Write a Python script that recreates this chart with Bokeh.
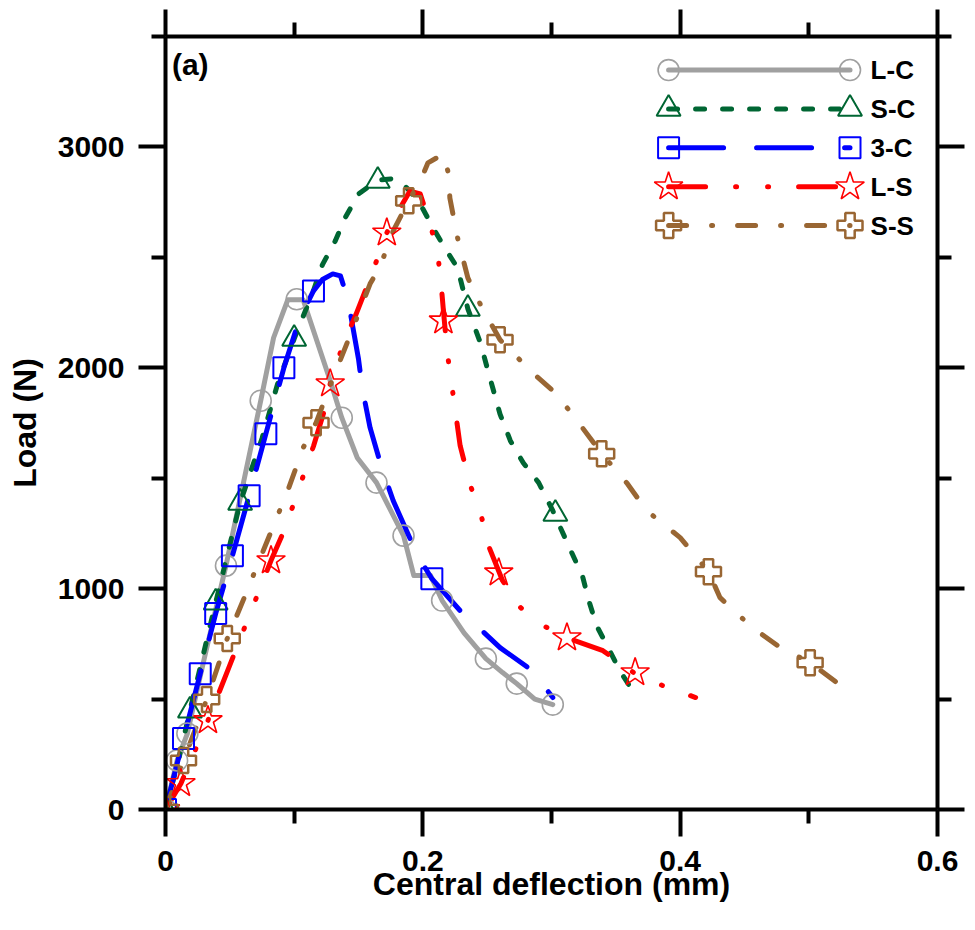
from bokeh.plotting import figure
from bokeh.models import LinearAxis, FixedTicker, Label
from bokeh.core.properties import value
from bokeh.embed import file_html
from bokeh.resources import INLINE

# ---------------- data ----------------
lc_x = [0, 0.009, 0.017, 0.030, 0.047, 0.060, 0.074, 0.084, 0.095, 0.107, 0.128, 0.137, 0.149,
        0.164, 0.185, 0.193, 0.206, 0.215, 0.232, 0.249, 0.262, 0.273, 0.287, 0.301]
lc_y = [0, 222, 344, 680, 1104, 1464, 1851, 2136, 2308, 2308, 1941, 1774, 1593,
        1480, 1240, 1059, 1059, 946, 800, 683, 620, 570, 500, 475]
lc_mx = [0, 0.009, 0.017, 0.047, 0.074, 0.102, 0.137, 0.164, 0.185, 0.215, 0.249, 0.273, 0.301]
lc_my = [0, 222, 344, 1104, 1851, 2310, 1774, 1480, 1240, 946, 683, 570, 475]

sc_x = [0, 0.010, 0.019, 0.039, 0.058, 0.075, 0.087, 0.100, 0.115, 0.122, 0.132, 0.140, 0.150,
        0.165, 0.175, 0.183, 0.190, 0.200, 0.208, 0.217, 0.227, 0.235, 0.245, 0.250, 0.260,
        0.268, 0.278, 0.290, 0.301, 0.315, 0.324, 0.329, 0.335, 0.344, 0.353, 0.363]
sc_y = [0, 220, 448, 937, 1389, 1680, 1925, 2131, 2350, 2467, 2575, 2683, 2787,
        2850, 2855, 2840, 2800, 2720, 2633, 2543, 2452, 2267, 2109, 2000, 1790,
        1670, 1570, 1480, 1353, 1172, 1059, 946, 833, 733, 629, 538]
sc_mx = [0, 0.019, 0.039, 0.058, 0.100, 0.165, 0.235, 0.303]
sc_my = [0, 448, 937, 1389, 2131, 2846, 2267, 1339]

c3_x = [0, 0.014, 0.027, 0.039, 0.052, 0.065, 0.078, 0.092, 0.104, 0.115, 0.122, 0.130, 0.136,
        0.142, 0.150, 0.153, 0.159, 0.168, 0.177, 0.196, 0.207, 0.231, 0.241, 0.260, 0.285, 0.301]
c3_y = [0, 321, 615, 887, 1149, 1421, 1701, 2000, 2220, 2348, 2400, 2425, 2416,
        2303, 2040, 1905, 1729, 1548, 1398, 1149, 1045, 887, 837, 733, 629, 507]
c3_mx = [0, 0.014, 0.027, 0.039, 0.052, 0.065, 0.078, 0.092, 0.115, 0.207]
c3_my = [0, 321, 615, 887, 1149, 1421, 1701, 2000, 2348, 1045]

ls_x = [0, 0.012, 0.033, 0.050, 0.065, 0.082, 0.091, 0.099, 0.107, 0.115, 0.124, 0.128, 0.138,
        0.148, 0.159, 0.172, 0.180, 0.190, 0.198, 0.204, 0.211, 0.214, 0.216, 0.219, 0.229,
        0.237, 0.245, 0.251, 0.262, 0.276, 0.295, 0.318, 0.340, 0.365, 0.388, 0.412]
ls_y = [0, 118, 403, 654, 876, 1127, 1247, 1374, 1509, 1645, 1817, 1928, 2106,
        2241, 2404, 2611, 2700, 2800, 2787, 2679, 2543, 2394, 2258, 2068, 1647,
        1466, 1340, 1195, 1036, 914, 828, 765, 719, 615, 557, 507]
ls_mx = [0, 0.012, 0.033, 0.082, 0.128, 0.172, 0.216, 0.259, 0.312, 0.365]
ls_my = [0, 118, 403, 1127, 1928, 2611, 2213, 1072, 778, 620]

ss_x = [0, 0.014, 0.032, 0.048, 0.062, 0.076, 0.095, 0.107, 0.117, 0.130, 0.144, 0.159, 0.167,
        0.177, 0.189, 0.198, 0.204, 0.216, 0.220, 0.221, 0.227, 0.235, 0.246, 0.260, 0.286,
        0.303, 0.320, 0.339, 0.359, 0.374, 0.400, 0.422, 0.431, 0.456, 0.478, 0.501, 0.528, 0.534]
ss_y = [0, 222, 498, 774, 970, 1172, 1443, 1638, 1751, 1950, 2154, 2380, 2462,
        2620, 2756, 2846, 2928, 2968, 2878, 2769, 2588, 2407, 2271, 2127, 1973,
        1887, 1760, 1611, 1475, 1353, 1231, 1077, 959, 824, 733, 665, 547, 507]
ss_mx = [0, 0.014, 0.032, 0.048, 0.117, 0.189, 0.260, 0.339, 0.422, 0.501]
ss_my = [0, 222, 498, 774, 1751, 2756, 2127, 1611, 1077, 665]

labels = ["L-C", "S-C", "3-C", "L-S", "S-S"]
x_ticks = [0, 0.2, 0.4, 0.6]
x_minor = [0.1, 0.3, 0.5]
y_ticks = [0, 1000, 2000, 3000]
y_minor = [500, 1500, 2500, 3500]

# ---------------- styles ----------------
FONT = "Liberation Sans"
series = [
    dict(x=lc_x, y=lc_y, mx=lc_mx, my=lc_my, color="#a0a0a0", dash="solid", marker="circle", size=21, mlw=1.6),
    dict(x=sc_x, y=sc_y, mx=sc_mx, my=sc_my, color="#006633", dash="9 18", marker="triangle", size=24, mlw=2),
    dict(x=c3_x, y=c3_y, mx=c3_mx, my=c3_my, color="#0000ff", dash="55 33", marker="square", size=21, mlw=2),
    dict(x=ls_x, y=ls_y, mx=ls_mx, my=ls_my, color="#ff0000", dash="37 30 1 31 1 30", marker="star", size=30, mlw=1.6),
    dict(x=ss_x, y=ss_y, mx=ss_mx, my=ss_my, color="#996633", dash="18 25 1 25", marker="plus", size=25, mlw=2.5),
]

p = figure(width=975, height=930, x_range=(0, 0.6), y_range=(0, 3500),
           output_backend="svg", toolbar_location=None,
           min_border_left=165, min_border_right=38, min_border_top=36, min_border_bottom=121)
p.xgrid.visible = False
p.ygrid.visible = False
p.outline_line_color = None
p.background_fill_color = "white"
p.border_fill_color = "white"

bottom = p.below[0]
left = p.left[0]
top = LinearAxis()
right = LinearAxis()
p.add_layout(top, "above")
p.add_layout(right, "right")

for ax in [bottom, top]:
    ax.ticker = FixedTicker(ticks=x_ticks, minor_ticks=x_minor)
for ax in [left, right]:
    ax.ticker = FixedTicker(ticks=y_ticks, minor_ticks=y_minor)

for ax in [bottom, left, top, right]:
    ax.axis_line_width = 4
    ax.axis_line_color = "black"
    ax.major_tick_line_width = 4
    ax.minor_tick_line_width = 4
    ax.major_tick_line_color = "black"
    ax.minor_tick_line_color = "black"
    ax.major_tick_out = 27
    ax.major_tick_in = 0
    ax.minor_tick_out = 14
    ax.minor_tick_in = 0
    ax.major_label_text_font = FONT
    ax.major_label_text_font_style = "bold"
    ax.major_label_text_font_size = "30px"
    ax.major_label_text_color = "black"
    ax.major_label_standoff = 14

# frame-only axes: ticks without labels
for ax in [top, right]:
    ax.major_label_text_font_size = "1px"
    ax.major_label_text_color = None
    ax.major_label_standoff = 0

bottom.axis_label = "Central deflection (mm)"
left.axis_label = "Load (N)"
for ax in [bottom, left]:
    ax.axis_label_text_font = FONT
    ax.axis_label_text_font_style = "bold"
    ax.axis_label_text_font_size = "32px"
    ax.axis_label_text_color = "black"
bottom.axis_label_standoff = -8
left.axis_label_standoff = 12

for s in series:
    p.line(s["x"], s["y"], line_color=s["color"], line_width=5, line_dash=s["dash"],
           line_cap="round", line_join="round")
for s in series:
    p.scatter(s["mx"], s["my"], marker=s["marker"], size=s["size"], line_color=s["color"],
              line_width=s["mlw"], fill_color=None)

# ---------------- legend (layout constants in data units) ----------------
LEG_X0, LEG_X1, LEG_TXT = 0.391, 0.532, 0.548
LEG_TOP, LEG_STEP = 3348, 176
for i, (s, lab) in enumerate(zip(series, labels)):
    yy = LEG_TOP - i * LEG_STEP
    p.line([LEG_X0, LEG_X1], [yy, yy], line_color=s["color"], line_width=5, line_dash=s["dash"],
           line_cap="round")
    p.scatter([LEG_X0, LEG_X1], [yy, yy], marker=s["marker"], size=s["size"], line_color=s["color"],
              line_width=s["mlw"], fill_color=None)
    p.text([LEG_TXT], [yy], text=[lab], text_font=value(FONT), text_font_style="bold",
           text_font_size=value("26px"), text_baseline="middle", text_align="left", text_color="black")

p.add_layout(Label(x=0.005, y=3375, text="(a)", text_font=FONT, text_font_style="bold",
                   text_font_size="30px", text_baseline="middle", text_align="left",
                   text_color="black"))

open("out.html", "w").write(file_html(p, INLINE))
